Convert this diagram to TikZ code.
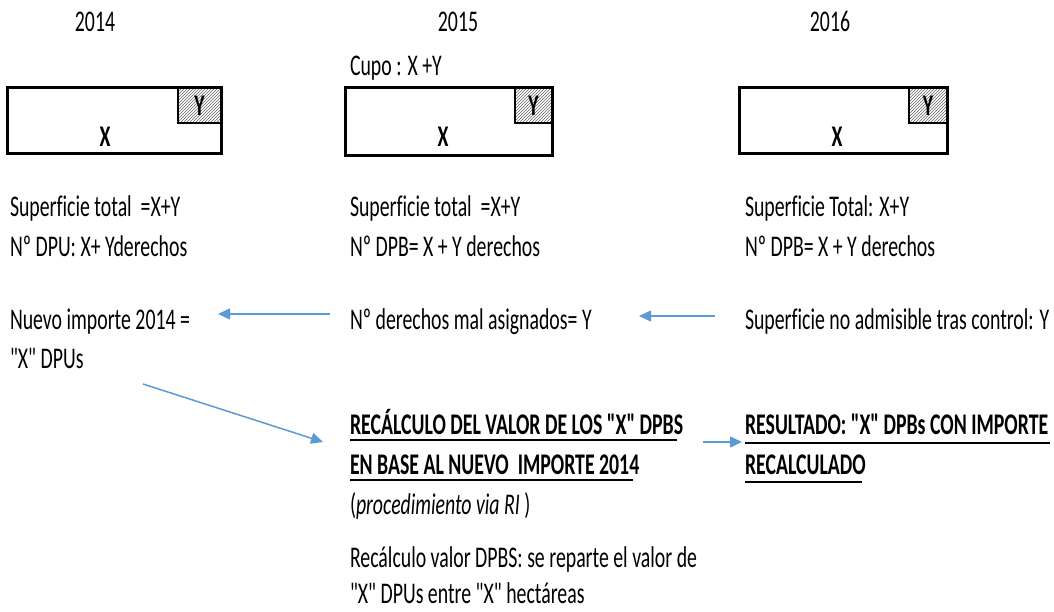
\documentclass[tikz,border=0pt]{standalone}
\usepackage{fontspec}
\newfontfamily\calfont{Carlito}[FakeStretch=0.66,Ligatures=NoCommon]
\usetikzlibrary{arrows.meta,patterns}
\definecolor{arrowblue}{HTML}{5B9BD5}
\begin{document}
\begin{tikzpicture}[x=1pt,y=-1pt,
  every node/.style={inner sep=0pt,outer sep=0pt,font=\calfont\fontsize{30}{35}\selectfont},
  txt/.style={anchor=base west},
  yr/.style={anchor=base},
  bold/.style={font=\calfont\fontsize{30}{35}\selectfont\bfseries},
  arr/.style={draw=arrowblue,line width=1.5pt,-{Triangle[length=12pt,width=11pt]}},
  field/.style={draw=black,line width=3pt},
  ybox/.style={draw=black,line width=2pt,pattern=north east lines,pattern color=gray!80!black},
  ul/.style={line width=2pt}]
\useasboundingbox (0,0) rectangle (1054,612);
% years
\node[yr] (y14) at (95,32) {2014};
\node[yr] (y15) at (458,32) {2015};
\node[yr] (y16) at (830,32) {2016};
\node[txt] (cupo) at (350,76) {Cupo : X +Y};
% boxes
\node[field,minimum width=214pt,minimum height=66pt] (b1) at (114,121) {};
\node[ybox,minimum width=43pt,minimum height=35pt] (yb1) at (199.5,105.5) {};
\node[bold] at (yb1) {Y};
\node[bold,yr] (x1) at (105,147) {X};
\node[field,minimum width=207pt,minimum height=68pt] (b2) at (448.5,122) {};
\node[ybox,minimum width=37pt,minimum height=35pt] (yb2) at (533.5,105.5) {};
\node[bold] at (yb2) {Y};
\node[bold,yr] (x2) at (443,147) {X};
\node[field,minimum width=208pt,minimum height=66pt] (b3) at (843,121) {};
\node[ybox,minimum width=38pt,minimum height=35pt] (yb3) at (928,105.5) {};
\node[bold] at (yb3) {Y};
\node[bold,yr] (x3) at (837,147) {X};
% left column
\node[txt] (l1) at (10,217) {Superficie total\ \ =X+Y};
\node[txt] (l2) at (10,257) {Nº DPU: X+ Yderechos};
\node[txt] (l3) at (10,329) {Nuevo importe 2014 =};
\node[txt] (l4) at (10,368) {"X" DPUs};
% middle column
\node[txt] (m1) at (350,217) {Superficie total\ \ =X+Y};
\node[txt] (m2) at (350,257) {Nº DPB= X + Y derechos};
\node[txt] (m3) at (350,329) {Nº derechos mal asignados= Y};
% right column
\node[txt] (r1) at (745,217) {Superficie Total: X+Y};
\node[txt] (r2) at (745,257) {Nº DPB= X + Y derechos};
\node[txt] (r3) at (745,329) {Superficie no admisible tras control: Y};
% bottom middle
\node[txt,bold] (c1) at (350,434) {RECÁLCULO DEL VALOR DE LOS "X" DPBS};
\node[txt,bold] (c2) at (350,474) {EN BASE AL NUEVO\ \ IMPORTE 2014};
\node[txt] (c3) at (350,514) {(\textit{procedimiento via RI} )};
\node[txt] (c4) at (350,567) {Recálculo valor DPBS: se reparte el valor de};
\node[txt] (c5) at (350,603) {"X" DPUs entre "X" hectáreas};
\draw[ul] (c1.base west) ++(0,6) coordinate (u1a) -- ++(327,0) coordinate (u1b);
\draw[ul] (c2.base west) ++(0,6) coordinate (u2a) -- ++(283,0) coordinate (u2b);
% bottom right
\node[txt,bold] (d1) at (745,434) {RESULTADO: "X" DPBs CON IMPORTE};
\node[txt,bold] (d2) at (745,474) {RECALCULADO};
\draw[ul] (d1.base west) ++(0,9) coordinate (u3a) -- ++(305,0) coordinate (u3b);
\draw[ul] (d2.base west) ++(0,8) coordinate (u4a) -- ++(117,0) coordinate (u4b);
% arrows
\coordinate (a1s) at (330,314);
\coordinate (a1e) at (218,314);
\draw[arr] (a1s) -- (a1e);
\coordinate (a2s) at (143,384);
\coordinate (a2e) at (323,442);
\draw[arr] (a2s) -- (a2e);
\coordinate (a3s) at (715,316);
\coordinate (a3e) at (639,316);
\draw[arr] (a3s) -- (a3e);
\coordinate (a4s) at (703,442);
\coordinate (a4e) at (742,442);
\draw[arr] (a4s) -- (a4e);
\end{tikzpicture}
\end{document}
